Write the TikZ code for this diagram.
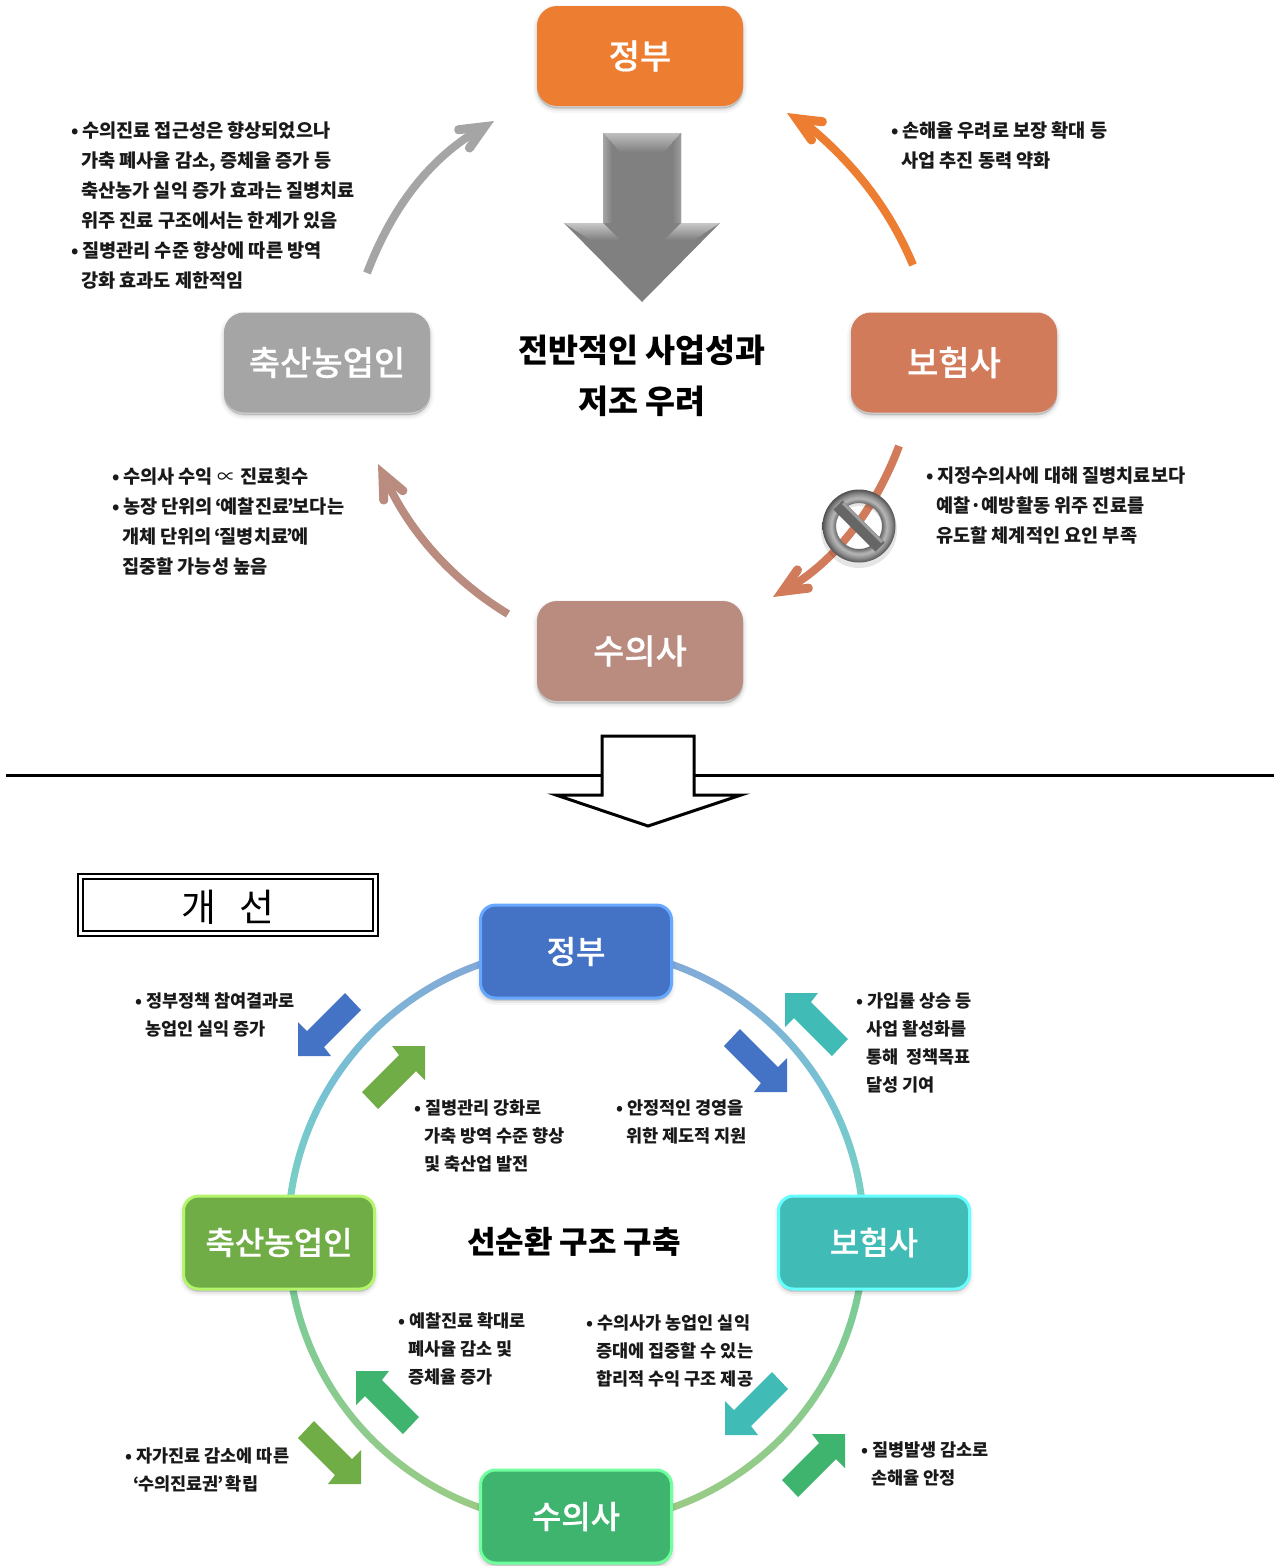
\documentclass[tikz,border=0pt]{standalone}
\usepackage{fontspec}
\setmainfont{Noto Sans CJK KR}
\newfontfamily\krmed[FakeBold=0.5]{Noto Sans CJK KR Medium}
\usetikzlibrary{shadings}
\newcommand\fs[2]{\fontsize{#1pt}{#2pt}\selectfont}
\newcommand\bt{\makebox[11pt][l]{•}}
\newcommand\ii{\makebox[10pt]{}}
\newcommand\oq{\hspace{-1.5pt}‘\hspace{-1.5pt}}
\newcommand\cq{\hspace{-1.5pt}’\hspace{-1.5pt}}
\newcommand\lbl[1]{\raisebox{-1pt}{#1}}
\pgfdeclareradialshading{ringshade}{\pgfpointorigin}{color(0bp)=(black!60);color(15.7bp)=(black!60);color(19bp)=(black!28);color(22bp)=(black!45);color(25bp)=(black!68);color(50bp)=(black!68)}
\definecolor{rA}{HTML}{84A6D8}
\definecolor{rB}{HTML}{76C4D2}
\definecolor{rC}{HTML}{78CFC4}
\definecolor{rD}{HTML}{7BCB98}
\definecolor{rE}{HTML}{9CCB84}
\pgfdeclareverticalshading{ringaxis}{100bp}{color(0bp)=(rE);color(25bp)=(rE);color(45.4bp)=(rD);color(54bp)=(rC);color(61.7bp)=(rB);color(75bp)=(rA);color(100bp)=(rA)}
\definecolor{cOrange}{HTML}{ED7D31}
\definecolor{cCoral}{HTML}{D17B5B}
\definecolor{cGray}{HTML}{A5A5A5}
\definecolor{cRose}{HTML}{BA8B7F}
\definecolor{cBlue}{HTML}{4472C4}
\definecolor{cTeal}{HTML}{41BBB5}
\definecolor{cGreen}{HTML}{70AD47}
\definecolor{cMint}{HTML}{3FB46E}
\definecolor{bBlue}{HTML}{66A8FF}
\definecolor{bTeal}{HTML}{66FFFF}
\definecolor{bGreen}{HTML}{B4F56C}
\definecolor{bMint}{HTML}{70FF9E}
\tikzset{
  softshadow/.style={
    preaction={draw=black,fill=black,opacity=.03,line width=8pt,transform canvas={yshift=-3pt}},
    preaction={draw=black,fill=black,opacity=.05,line width=4pt,transform canvas={yshift=-3pt}},
    preaction={draw=black,fill=black,opacity=.07,line width=1pt,transform canvas={yshift=-2pt}}},
  topbox/.style={softshadow,rounded corners=20pt,minimum width=206pt,minimum height=100pt,inner sep=0pt,text=white,font=\fs{34}{40}\krmed},
  lowbox/.style={softshadow,rounded corners=15pt,line width=3pt,minimum width=191pt,minimum height=93pt,inner sep=0pt,text=white,font=\fs{32}{38}\krmed},
  note/.style={anchor=west,align=left,inner sep=0pt,font=\fs{18.6}{30}\bfseries,text=black!90},
  lownote/.style={anchor=west,align=left,inner sep=0pt,font=\fs{17.5}{28}\bfseries,text=black!90},
  headline/.style={align=center,inner sep=0pt,font=\fs{32.6}{51}\bfseries},
  cycleshaft/.style={line width=8pt}
}
\newcommand\blockarr[4]{%
  \fill[#4,shift={(#1)},xscale=#2,yscale=#3] (0,0) -- (-33,0) -- (-26,9) -- (-63,46) -- (-47,63) -- (-9,25) -- (0,34) -- cycle;}
\newcommand\cyclehead[3]{%
  \fill[#3,shift={(#1)},rotate=#2] (0,0) [rounded corners=4pt] -- (37,-16.5) -- (40.7,-8.3) [sharp corners] -- (22,0) [rounded corners=4pt] -- (40.7,8.3) -- (37,16.5) [sharp corners] -- cycle;}
\begin{document}
\begin{tikzpicture}[x=1pt,y=-1pt]
\useasboundingbox (0,0) rectangle (1279,1566);
\fill[white] (0,0) rectangle (1279,1566);

% upper boxes
\node[topbox,fill=cOrange] (govA) at (640,56) {\lbl{정부}};
\node[topbox,fill=cCoral] (insA) at (954,362.5) {\lbl{보험사}};
\node[topbox,fill=cGray] (farmA) at (327,362.5) {\lbl{축산농업인}};
\node[topbox,fill=cRose] (vetA) at (640,651) {\lbl{수의사}};

% cycle arrows
\coordinate (g1) at (367,273); \coordinate (g2) at (475,132); \coordinate (g3) at (494,121);
\coordinate (o1) at (913,265); \coordinate (o2) at (806,124); \coordinate (o3) at (787,113);
\coordinate (c1) at (899,446); \coordinate (c2) at (792,586); \coordinate (c3) at (773,597);
\coordinate (r1) at (508,614); \coordinate (r2) at (388,484); \coordinate (r3) at (378,464);
\draw[cycleshaft,cGray] (g1) .. controls (393,205) and (430,160) .. (g2);
\cyclehead{g3}{210.8}{cGray}
\draw[cycleshaft,cOrange] (o1) .. controls (888,205) and (850,160) .. (o2);
\cyclehead{o3}{-30.8}{cOrange}
\draw[cycleshaft,cCoral] (c1) .. controls (875,510) and (835,560) .. (c2);
\cyclehead{c3}{31}{cCoral}
\draw[cycleshaft,cRose] (r1) .. controls (455,582) and (412,535) .. (r2);
\cyclehead{r3}{-64}{cRose}

% big grey arrow
\fill[black!50] (603,133) -- (681,133) -- (681,223) -- (720,223) -- (642,302) -- (564,223) -- (603,223) -- cycle;
\shade[top color=black!25,bottom color=black!50] (603,133) -- (681,133) -- (664,152) -- (620,152) -- cycle;
\shade[top color=black!22,bottom color=black!50] (564,223) -- (603,223) -- (620,240) -- (590,240) -- cycle;
\shade[top color=black!22,bottom color=black!50] (720,223) -- (681,223) -- (664,240) -- (694,240) -- cycle;
\shade[left color=black!35,right color=black!50] (603,133) -- (612,143) -- (612,223) -- (603,223) -- cycle;
\shade[left color=black!50,right color=black!38] (672,143) -- (681,133) -- (681,223) -- (672,223) -- cycle;

% no sign
\fill[black,opacity=.10,even odd rule] (859,530) circle (38) (859,530) circle (24);
\shade[shading=ringshade,even odd rule] (859,526) circle (36.5) (859,526) circle (23);
\draw[black!60,line width=13pt] (838,505) -- (880,547);
\draw[black!38,line width=3pt] (843,503) -- (882,542);

% headline
\node[headline] (headA) at (642,376) {전반적인 사업성과\\저조 우려};

% upper notes
\node[note] (n1) at (71,206) {\bt 수의진료 접근성은 향상되었으나\\\ii 가축 폐사율 감소, 증체율 증가 등\\\ii 축산농가 실익 증가 효과는 질병치료\\\ii 위주 진료 구조에서는 한계가 있음\\\bt 질병관리 수준 향상에 따른 방역\\\ii 강화 효과도 제한적임};
\node[note] (n2) at (891,145) {\bt 손해율 우려로 보장 확대 등\\\ii 사업 추진 동력 약화};
\node[note] (n3) at (926,506) {\bt 지정수의사에 대해 질병치료보다\\\ii 예찰·예방활동 위주 진료를\\\ii 유도할 체계적인 요인 부족};
\node[note] (n4) at (112,521) {\bt 수의사 수익 {\mdseries ∝} 진료횟수\\\bt 농장 단위의 \oq 예찰진료\cq 보다는\\\ii 개체 단위의 \oq 질병치료\cq 에\\\ii 집중할 가능성 높음};

% divider and open arrow
\coordinate (divL) at (6,775); \coordinate (divR) at (1274,775);
\draw[line width=3pt] (divL) -- (divR);
\draw[line width=3pt,fill=white,miter limit=20] (602,736) -- (694,736) -- (694,795) -- (741,795) -- (648,826) -- (556,795) -- (602,795) -- cycle;

% title box
\draw[line width=2pt] (78,874) rectangle (378,936);
\draw[line width=2pt] (83,879) rectangle (373,931);
\node[inner sep=0pt,font=\fs{38}{42}] (title) at (228,907) {개\hspace{24pt}선};

% ring
\path[even odd rule,shade,shading=ringaxis] (576,1236) circle (291.5) (576,1236) circle (284.5);

% lower boxes
\node[lowbox,fill=cBlue,draw=bBlue] (govB) at (576,951.5) {\lbl{정부}};
\node[lowbox,fill=cTeal,draw=bTeal] (insB) at (874,1242.5) {\lbl{보험사}};
\node[lowbox,fill=cGreen,draw=bGreen] (farmB) at (279,1242.5) {\lbl{축산농업인}};
\node[lowbox,fill=cMint,draw=bMint] (vetB) at (576,1516.5) {\lbl{수의사}};

% block arrows
\blockarr{298,1056}{-1}{-1}{cBlue}
\blockarr{425,1046}{1}{1}{cGreen}
\blockarr{787,1092}{1}{-1}{cBlue}
\blockarr{785,993}{-1}{1}{cTeal}
\blockarr{361,1484}{1}{-1}{cGreen}
\blockarr{356,1371}{-1}{1}{cMint}
\blockarr{725,1435}{-1}{-1}{cTeal}
\blockarr{845,1434}{1}{1}{cMint}

% lower headline
\node[headline,font=\fs{31}{38}\bfseries] (headB) at (574,1241.5) {선순환 구조 구축};

% lower notes
\node[lownote] (m1) at (135,1014.5) {\bt 정부정책 참여결과로\\\ii 농업인 실익 증가};
\node[lownote] (m2) at (856,1042.5) {\bt 가입률 상승 등\\\ii 사업 활성화를\\\ii 통해\ \ 정책목표\\\ii 달성 기여};
\node[lownote] (m3) at (414,1135.5) {\bt 질병관리 강화로\\\ii 가축 방역 수준 향상\\\ii 및 축산업 발전};
\node[lownote] (m4) at (616,1121.5) {\bt 안정적인 경영을\\\ii 위한 제도적 지원};
\node[lownote] (m5) at (398,1348.5) {\bt 예찰진료 확대로\\\ii 폐사율 감소 및\\\ii 증체율 증가};
\node[lownote] (m6) at (586,1350.5) {\bt 수의사가 농업인 실익\\\ii 증대에 집중할 수 있는\\\ii 합리적 수익 구조 제공};
\node[lownote] (m7) at (125,1470) {\bt 자가진료 감소에 따른\\\ii \oq 수의진료권\cq\ 확립};
\node[lownote] (m8) at (861,1464) {\bt 질병발생 감소로\\\ii 손해율 안정};
\end{tikzpicture}
\end{document}
